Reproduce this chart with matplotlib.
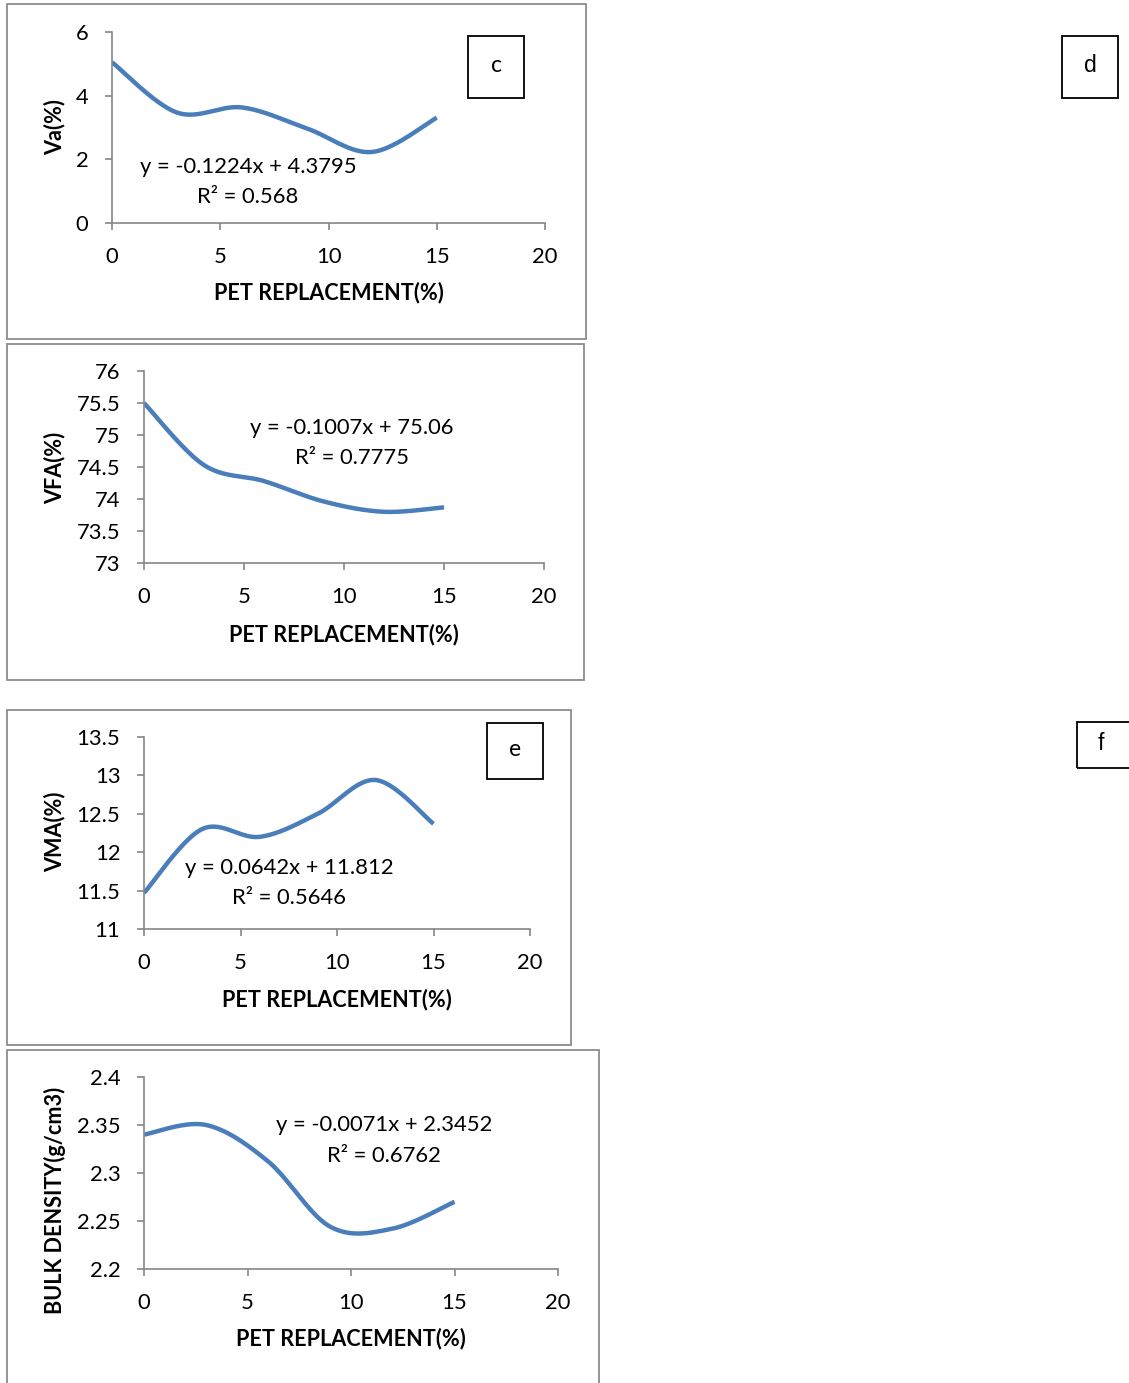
import numpy as np
import matplotlib
matplotlib.use("Agg")
import matplotlib.pyplot as plt
from matplotlib.patches import Rectangle

# data (PET replacement %)
pet = [0, 3, 6, 9, 12, 15]
va = [5.05, 3.47, 3.63, 2.97, 2.23, 3.31]
vfa = [75.5, 74.53, 74.28, 73.96, 73.80, 73.87]
vma = [11.47, 12.30, 12.20, 12.50, 12.94, 12.37]
bulk = [2.340, 2.350, 2.312, 2.244, 2.242, 2.270]

va_eq = ["y = -0.1224x + 4.3795", "R² = 0.568"]
vfa_eq = ["y = -0.1007x + 75.06", "R² = 0.7775"]
vma_eq = ["y = 0.0642x + 11.812", "R² = 0.5646"]
bulk_eq = ["y = -0.0071x + 2.3452", "R² = 0.6762"]

W, H = 1129, 1383
FONT = "Lato"
LINE = "#4a7ebb"
GRID = "#868686"
FS = 15.8


def smooth(x, y, n=40):
    """Excel-like smoothed line: Catmull-Rom through the points as cubic Beziers."""
    p = np.column_stack([x, y]).astype(float)
    pts = np.vstack([p[0], p, p[-1]])
    out = []
    t = np.linspace(0, 1, n)[:, None]
    for i in range(1, len(pts) - 2):
        p0, p1, p2, p3 = pts[i - 1], pts[i], pts[i + 1], pts[i + 2]
        c1 = p1 + (p2 - p0) / 6
        c2 = p2 - (p3 - p1) / 6
        seg = ((1 - t) ** 3) * p1 + 3 * ((1 - t) ** 2) * t * c1 + 3 * (1 - t) * t ** 2 * c2 + t ** 3 * p2
        out.append(seg)
    out = np.vstack(out)
    return out[:, 0], out[:, 1]


def px_rect(x0, y0, x1, y1):
    return [x0 / W, 1 - y1 / H, (x1 - x0) / W, (y1 - y0) / H]


def box(fig, x0, y0, x1, y1, color, lw):
    fig.patches.append(Rectangle((x0 / W, 1 - y1 / H), (x1 - x0) / W, (y1 - y0) / H,
                                 transform=fig.transFigure, fill=False,
                                 edgecolor=color, linewidth=lw))


fig = plt.figure(figsize=(W / 100, H / 100), dpi=100)

# chart frames
box(fig, 7, 4, 586, 339, "#8c8c8c", 1.3)
box(fig, 7, 344, 584, 680, "#8c8c8c", 1.3)
box(fig, 7, 710, 571, 1045, "#8c8c8c", 1.3)
box(fig, 7, 1050, 599, 1400, "#8c8c8c", 1.3)

panels = [
    # (pixel axes rect, y data, ylim, yticks, ylabel, equation, eq pos, xlabel y px, ylabel centre y px)
    ((112, 32, 545, 223), va, (0, 6), [0, 2, 4, 6], "Va(%)", va_eq, (6.28, 1.76, 0.82), 293, 127),
    ((144, 371, 544, 563), vfa, (73, 76), [73, 73.5, 74, 74.5, 75, 75.5, 76], "VFA(%)", vfa_eq, (10.4, 75.11, 74.64), 635, 468),
    ((144, 737, 530, 929), vma, (11, 13.5), [11, 11.5, 12, 12.5, 13, 13.5], "VMA(%)", vma_eq, (7.51, 11.79, 11.40), 1000, 832),
    ((144, 1077, 558, 1269), bulk, (2.2, 2.4), [2.2, 2.25, 2.3, 2.35, 2.4], "BULK DENSITY(g/cm3)", bulk_eq, (11.59, 2.350, 2.3177), 1339, 1200),
]

for rect, yv, ylim, yt, ylab, eq, eqpos, xl_y, yl_y in panels:
    ax = fig.add_axes(px_rect(*rect))
    sx, sy = smooth(pet, yv)
    ax.plot(sx, sy, color=LINE, linewidth=3.2, solid_capstyle="butt")
    ax.set_xlim(0, 20)
    ax.set_ylim(*ylim)
    ax.set_xticks([0, 5, 10, 15, 20])
    ax.set_yticks(yt)
    ax.set_yticklabels([f"{v:g}" for v in yt])
    for s in ["top", "right"]:
        ax.spines[s].set_visible(False)
    for s in ["left", "bottom"]:
        ax.spines[s].set_color(GRID)
        ax.spines[s].set_linewidth(1.2)
    ax.tick_params(axis="both", colors=GRID, labelcolor="black", length=5, width=1.2,
                   labelsize=FS, direction="out")
    ax.tick_params(axis="x", pad=12)
    ax.tick_params(axis="y", pad=12)
    for lab in ax.get_xticklabels() + ax.get_yticklabels():
        lab.set_fontfamily(FONT)
    ax.patch.set_alpha(0)

    ex, ey1, ey2 = eqpos
    ax.text(ex, ey1, eq[0], ha="center", va="center", fontsize=FS, family=FONT)
    ax.text(ex, ey2, eq[1], ha="center", va="center", fontsize=FS, family=FONT)

    # axis titles placed by pixel position
    x0, y0, x1, y1 = rect
    fig.text(((x0 + x1) / 2) / W, 1 - xl_y / H, "PET REPLACEMENT(%)",
             ha="center", va="center", fontsize=15.6, fontweight="bold", family=FONT)
    fig.text(55 / W, 1 - yl_y / H, ylab, rotation=90, ha="center", va="center",
             fontsize=15.6, fontweight="bold", family=FONT)

# panel letters
labels = [("c", 468, 36, 524, 98, FONT), ("d", 1062, 36, 1118, 98, "Liberation Sans"),
          ("e", 487, 723, 543, 779, FONT), ("f", 1077, 722, 1160, 768, "Liberation Sans")]
for txt, x0, y0, x1, y1, fam in labels:
    box(fig, x0, y0, x1, y1, "black", 1.3)
    cx = (x0 + x1) / 2 if txt != "f" else 1101
    fig.text(cx / W, 1 - ((y0 + y1) / 2 - 1) / H, txt, ha="center", va="center",
             fontsize=16.5, family=fam)

fig.savefig("out.png", dpi=100)
